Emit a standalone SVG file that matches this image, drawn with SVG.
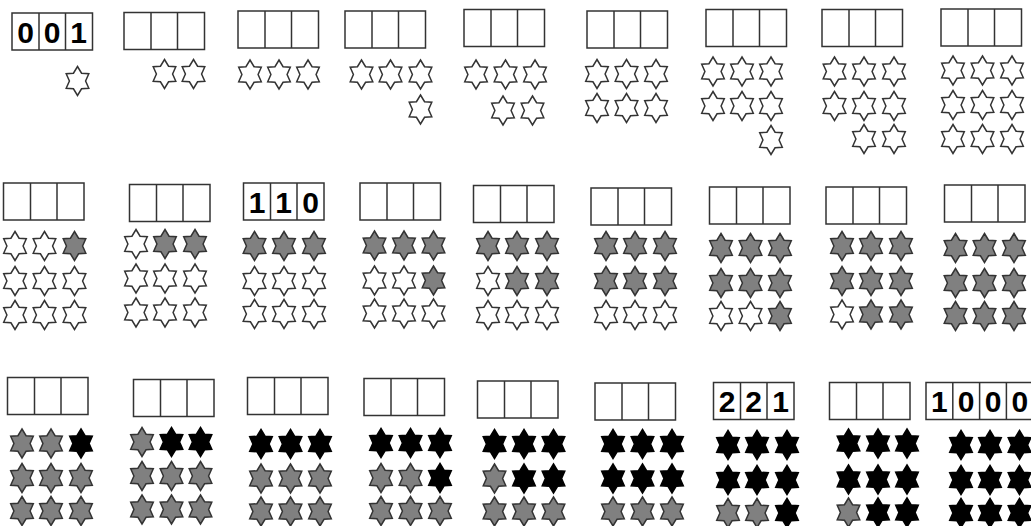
<svg xmlns="http://www.w3.org/2000/svg" xmlns:xlink="http://www.w3.org/1999/xlink" width="1031" height="526" viewBox="0 0 1031 526">
<style>
.bx{fill:#fff;stroke:#333;stroke-width:1.5}
.w{fill:#fff;stroke:#333;stroke-width:1.5}
.g{fill:#808080;stroke:#333;stroke-width:1.5}
.k{fill:#000;stroke:#000;stroke-width:1.5}
.d{font-family:"Liberation Sans",Arial,sans-serif;font-weight:bold;font-size:30px;fill:#000;text-anchor:middle}
</style>
<defs>
<path id="s" d="M0,-14.5 L4.05,-7.79 L11.3,-7.25 L8.09,0 L11.3,7.25 L4.05,7.79 L0,14.5 L-4.05,7.79 L-11.3,7.25 L-8.09,0 L-11.3,-7.25 L-4.05,-7.79 Z" stroke-linejoin="miter"/>
<g id="b3" class="bx"><rect x="0" y="0" width="80.5" height="37"/><line x1="27" y1="0" x2="27" y2="37"/><line x1="53.5" y1="0" x2="53.5" y2="37"/></g>
<g id="b4" class="bx"><rect x="0" y="0" width="107.2" height="37"/><line x1="26.8" y1="0" x2="26.8" y2="37"/><line x1="53.6" y1="0" x2="53.6" y2="37"/><line x1="80.4" y1="0" x2="80.4" y2="37"/></g>
</defs>
<rect width="1031" height="526" fill="#fff"/>

<!-- Row 1 -->
<g id="p1">
<use href="#b3" x="12" y="13"/>
<text class="d" x="25.5" y="42.5">0</text><text class="d" x="52" y="42.5">0</text><text class="d" x="78.5" y="42.5">1</text>
<use href="#s" class="w" x="77.5" y="81"/>
</g>
<g id="p2">
<use href="#b3" x="124" y="12.5"/>
<use href="#s" class="w" x="164.5" y="74"/><use href="#s" class="w" x="193.5" y="74"/>
</g>
<g id="p3">
<use href="#b3" x="238" y="11"/>
<use href="#s" class="w" x="250" y="74.5"/><use href="#s" class="w" x="279" y="74.5"/><use href="#s" class="w" x="308" y="74.5"/>
</g>
<g id="p4">
<use href="#b3" x="345" y="11"/>
<use href="#s" class="w" x="361.5" y="74.5"/><use href="#s" class="w" x="390.5" y="74.5"/><use href="#s" class="w" x="420.5" y="74.5"/>
<use href="#s" class="w" x="420.5" y="109.5"/>
</g>
<g id="p5">
<use href="#b3" x="464" y="9.5"/>
<use href="#s" class="w" x="476" y="74.5"/><use href="#s" class="w" x="505.5" y="74.5"/><use href="#s" class="w" x="535" y="74.5"/>
<use href="#s" class="w" x="503" y="110.5"/><use href="#s" class="w" x="532.5" y="110.5"/>
</g>
<g id="p6">
<use href="#b3" x="587" y="11"/>
<use href="#s" class="w" x="597" y="74"/><use href="#s" class="w" x="626.5" y="74"/><use href="#s" class="w" x="656" y="74"/>
<use href="#s" class="w" x="597" y="108"/><use href="#s" class="w" x="626.5" y="108"/><use href="#s" class="w" x="656" y="108"/>
</g>
<g id="p7">
<use href="#b3" x="706" y="9.5"/>
<use href="#s" class="w" x="713" y="71.5"/><use href="#s" class="w" x="742" y="71.5"/><use href="#s" class="w" x="771" y="71.5"/>
<use href="#s" class="w" x="713" y="106"/><use href="#s" class="w" x="742" y="106"/><use href="#s" class="w" x="771" y="106"/>
<use href="#s" class="w" x="771" y="140"/>
</g>
<g id="p8">
<use href="#b3" x="822" y="9.5"/>
<use href="#s" class="w" x="834.5" y="71.5"/><use href="#s" class="w" x="864" y="71.5"/><use href="#s" class="w" x="894" y="71.5"/>
<use href="#s" class="w" x="834.5" y="106"/><use href="#s" class="w" x="864" y="106"/><use href="#s" class="w" x="894" y="106"/>
<use href="#s" class="w" x="864" y="139"/><use href="#s" class="w" x="894" y="139"/>
</g>
<g id="p9">
<use href="#b3" x="941" y="9"/>
<use href="#s" class="w" x="953" y="70.5"/><use href="#s" class="w" x="982.5" y="70.5"/><use href="#s" class="w" x="1012" y="70.5"/>
<use href="#s" class="w" x="953" y="105"/><use href="#s" class="w" x="982.5" y="105"/><use href="#s" class="w" x="1012" y="105"/>
<use href="#s" class="w" x="953" y="139"/><use href="#s" class="w" x="982.5" y="139"/><use href="#s" class="w" x="1012" y="139"/>
</g>

<!-- Row 2 -->
<g id="p10">
<use href="#b3" x="3.5" y="183"/>
<use href="#s" class="w" x="15" y="246"/><use href="#s" class="w" x="44.5" y="246"/><use href="#s" class="g" x="74.5" y="246"/>
<use href="#s" class="w" x="15" y="281"/><use href="#s" class="w" x="44.5" y="281"/><use href="#s" class="w" x="74.5" y="281"/>
<use href="#s" class="w" x="15" y="315"/><use href="#s" class="w" x="44.5" y="315"/><use href="#s" class="w" x="74.5" y="315"/>
</g>
<g id="p11">
<use href="#b3" x="129.5" y="184.5"/>
<use href="#s" class="w" x="136" y="244"/><use href="#s" class="g" x="165" y="244"/><use href="#s" class="g" x="195" y="244"/>
<use href="#s" class="w" x="136" y="278.5"/><use href="#s" class="w" x="165" y="278.5"/><use href="#s" class="w" x="195" y="278.5"/>
<use href="#s" class="w" x="136" y="312.5"/><use href="#s" class="w" x="165" y="312.5"/><use href="#s" class="w" x="195" y="312.5"/>
</g>
<g id="p12">
<use href="#b3" x="243.5" y="183"/>
<text class="d" x="257" y="213">1</text><text class="d" x="283.5" y="213">1</text><text class="d" x="310.5" y="213">0</text>
<use href="#s" class="g" x="254.5" y="246"/><use href="#s" class="g" x="284" y="246"/><use href="#s" class="g" x="314" y="246"/>
<use href="#s" class="w" x="254.5" y="281"/><use href="#s" class="w" x="284" y="281"/><use href="#s" class="w" x="314" y="281"/>
<use href="#s" class="w" x="254.5" y="314"/><use href="#s" class="w" x="284" y="314"/><use href="#s" class="w" x="314" y="314"/>
</g>
<g id="p13">
<use href="#b3" x="360" y="183"/>
<use href="#s" class="g" x="374.5" y="245.5"/><use href="#s" class="g" x="404" y="245.5"/><use href="#s" class="g" x="433.5" y="245.5"/>
<use href="#s" class="w" x="374.5" y="280.5"/><use href="#s" class="w" x="404" y="280.5"/><use href="#s" class="g" x="433.5" y="280.5"/>
<use href="#s" class="w" x="374.5" y="313.5"/><use href="#s" class="w" x="404" y="313.5"/><use href="#s" class="w" x="433.5" y="313.5"/>
</g>
<g id="p14">
<use href="#b3" x="473.5" y="185.5"/>
<use href="#s" class="g" x="488" y="246"/><use href="#s" class="g" x="517" y="246"/><use href="#s" class="g" x="547" y="246"/>
<use href="#s" class="w" x="488" y="281"/><use href="#s" class="g" x="517" y="281"/><use href="#s" class="g" x="547" y="281"/>
<use href="#s" class="w" x="488" y="315"/><use href="#s" class="w" x="517" y="315"/><use href="#s" class="w" x="547" y="315"/>
</g>
<g id="p15">
<use href="#b3" x="591" y="188"/>
<use href="#s" class="g" x="606" y="246"/><use href="#s" class="g" x="635" y="246"/><use href="#s" class="g" x="665" y="246"/>
<use href="#s" class="g" x="606" y="281"/><use href="#s" class="g" x="635" y="281"/><use href="#s" class="g" x="665" y="281"/>
<use href="#s" class="w" x="606" y="315"/><use href="#s" class="w" x="635" y="315"/><use href="#s" class="w" x="665" y="315"/>
</g>
<g id="p16">
<use href="#b3" x="709.5" y="187"/>
<use href="#s" class="g" x="721" y="248"/><use href="#s" class="g" x="750.5" y="248"/><use href="#s" class="g" x="780" y="248"/>
<use href="#s" class="g" x="721" y="283"/><use href="#s" class="g" x="750.5" y="283"/><use href="#s" class="g" x="780" y="283"/>
<use href="#s" class="w" x="721" y="316"/><use href="#s" class="w" x="750.5" y="316"/><use href="#s" class="g" x="780" y="316"/>
</g>
<g id="p17">
<use href="#b3" x="826" y="187"/>
<use href="#s" class="g" x="842" y="246"/><use href="#s" class="g" x="871" y="246"/><use href="#s" class="g" x="901" y="246"/>
<use href="#s" class="g" x="842" y="281"/><use href="#s" class="g" x="871" y="281"/><use href="#s" class="g" x="901" y="281"/>
<use href="#s" class="w" x="842" y="314.5"/><use href="#s" class="g" x="871" y="314.5"/><use href="#s" class="g" x="901" y="314.5"/>
</g>
<g id="p18">
<use href="#b3" x="944.5" y="185"/>
<use href="#s" class="g" x="955.5" y="248"/><use href="#s" class="g" x="984.5" y="248"/><use href="#s" class="g" x="1014" y="248"/>
<use href="#s" class="g" x="955.5" y="283"/><use href="#s" class="g" x="984.5" y="283"/><use href="#s" class="g" x="1014" y="283"/>
<use href="#s" class="g" x="955.5" y="316"/><use href="#s" class="g" x="984.5" y="316"/><use href="#s" class="g" x="1014" y="316"/>
</g>

<!-- Row 3 -->
<g id="p19">
<use href="#b3" x="7.5" y="377.5"/>
<use href="#s" class="g" x="22" y="443.5"/><use href="#s" class="g" x="51" y="443.5"/><use href="#s" class="k" x="81" y="443.5"/>
<use href="#s" class="g" x="22" y="478"/><use href="#s" class="g" x="51" y="478"/><use href="#s" class="g" x="81" y="478"/>
<use href="#s" class="g" x="22" y="511"/><use href="#s" class="g" x="51" y="511"/><use href="#s" class="g" x="81" y="511"/>
</g>
<g id="p20">
<use href="#b3" x="133.5" y="379.5"/>
<use href="#s" class="g" x="142" y="442"/><use href="#s" class="k" x="171.5" y="442"/><use href="#s" class="k" x="200.5" y="442"/>
<use href="#s" class="g" x="142" y="476"/><use href="#s" class="g" x="171.5" y="476"/><use href="#s" class="g" x="200.5" y="476"/>
<use href="#s" class="g" x="142" y="509.5"/><use href="#s" class="g" x="171.5" y="509.5"/><use href="#s" class="g" x="200.5" y="509.5"/>
</g>
<g id="p21">
<use href="#b3" x="247.5" y="377.5"/>
<use href="#s" class="k" x="261" y="444"/><use href="#s" class="k" x="290.5" y="444"/><use href="#s" class="k" x="320" y="444"/>
<use href="#s" class="g" x="261" y="478.5"/><use href="#s" class="g" x="290.5" y="478.5"/><use href="#s" class="g" x="320" y="478.5"/>
<use href="#s" class="g" x="261" y="511.5"/><use href="#s" class="g" x="290.5" y="511.5"/><use href="#s" class="g" x="320" y="511.5"/>
</g>
<g id="p22">
<use href="#b3" x="364" y="378.5"/>
<use href="#s" class="k" x="381" y="443"/><use href="#s" class="k" x="410.5" y="443"/><use href="#s" class="k" x="440" y="443"/>
<use href="#s" class="g" x="381" y="478"/><use href="#s" class="g" x="410.5" y="478"/><use href="#s" class="k" x="440" y="478"/>
<use href="#s" class="g" x="381" y="511"/><use href="#s" class="g" x="410.5" y="511"/><use href="#s" class="g" x="440" y="511"/>
</g>
<g id="p23">
<use href="#b3" x="477.5" y="381"/>
<use href="#s" class="k" x="494.5" y="444"/><use href="#s" class="k" x="524" y="444"/><use href="#s" class="k" x="553.5" y="444"/>
<use href="#s" class="g" x="494.5" y="478.5"/><use href="#s" class="k" x="524" y="478.5"/><use href="#s" class="k" x="553.5" y="478.5"/>
<use href="#s" class="g" x="494.5" y="511.5"/><use href="#s" class="g" x="524" y="511.5"/><use href="#s" class="g" x="553.5" y="511.5"/>
</g>
<g id="p24">
<use href="#b3" x="595" y="383"/>
<use href="#s" class="k" x="613" y="444"/><use href="#s" class="k" x="642.5" y="444"/><use href="#s" class="k" x="672" y="444"/>
<use href="#s" class="k" x="613" y="478.5"/><use href="#s" class="k" x="642.5" y="478.5"/><use href="#s" class="k" x="672" y="478.5"/>
<use href="#s" class="g" x="613" y="511.5"/><use href="#s" class="g" x="642.5" y="511.5"/><use href="#s" class="g" x="672" y="511.5"/>
</g>
<g id="p25">
<use href="#b3" x="713.5" y="382.5"/>
<text class="d" x="727" y="411.5">2</text><text class="d" x="753.5" y="411.5">2</text><text class="d" x="780.5" y="411.5">1</text>
<use href="#s" class="k" x="728" y="445"/><use href="#s" class="k" x="757" y="445"/><use href="#s" class="k" x="787" y="445"/>
<use href="#s" class="k" x="728" y="480"/><use href="#s" class="k" x="757" y="480"/><use href="#s" class="k" x="787" y="480"/>
<use href="#s" class="g" x="728" y="513"/><use href="#s" class="g" x="757" y="513"/><use href="#s" class="k" x="787" y="513"/>
</g>
<g id="p26">
<use href="#b3" x="829.5" y="382.5"/>
<use href="#s" class="k" x="848.5" y="443.5"/><use href="#s" class="k" x="878" y="443.5"/><use href="#s" class="k" x="907" y="443.5"/>
<use href="#s" class="k" x="848.5" y="479.5"/><use href="#s" class="k" x="878" y="479.5"/><use href="#s" class="k" x="907" y="479.5"/>
<use href="#s" class="g" x="848.5" y="512.5"/><use href="#s" class="k" x="878" y="512.5"/><use href="#s" class="k" x="907" y="512.5"/>
</g>
<g id="p27">
<use href="#b4" x="926" y="382.5"/>
<text class="d" x="939.4" y="411.5">1</text><text class="d" x="966.2" y="411.5">0</text><text class="d" x="993" y="411.5">0</text><text class="d" x="1019.8" y="411.5">0</text>
<use href="#s" class="k" x="961" y="445"/><use href="#s" class="k" x="990" y="445"/><use href="#s" class="k" x="1019.5" y="445"/>
<use href="#s" class="k" x="961" y="480"/><use href="#s" class="k" x="990" y="480"/><use href="#s" class="k" x="1019.5" y="480"/>
<use href="#s" class="k" x="961" y="513"/><use href="#s" class="k" x="990" y="513"/><use href="#s" class="k" x="1019.5" y="513"/>
</g>
<g id="connectors"/>
</svg>
